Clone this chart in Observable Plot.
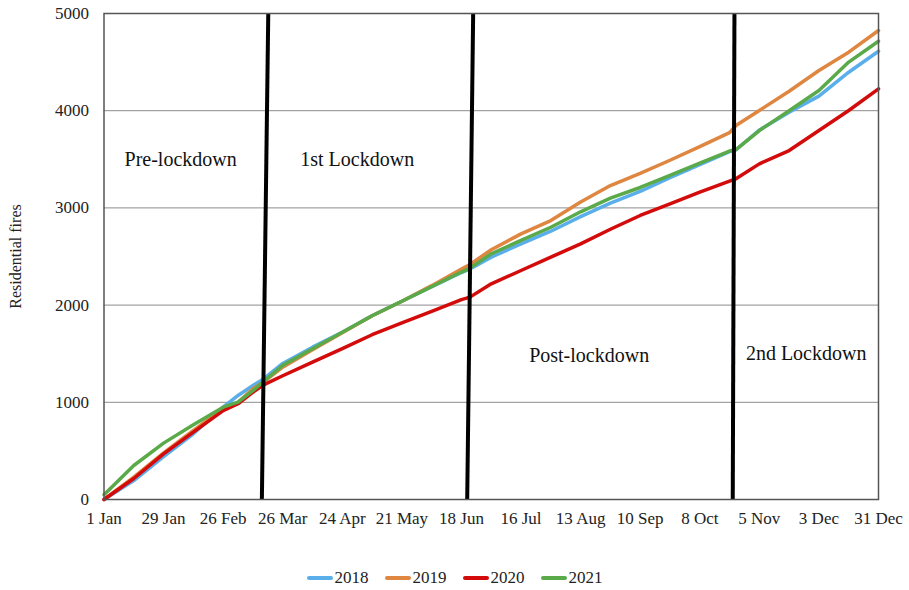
<!DOCTYPE html>
<html>
<head>
<meta charset="utf-8">
<script src="https://cdn.jsdelivr.net/npm/d3@7"></script>
<script src="https://cdn.jsdelivr.net/npm/@observablehq/plot@0.6"></script>
<style>
  html, body { margin: 0; padding: 0; background: #fff; }
  #chart { width: 909px; position: relative; }
  .legend { display: flex; justify-content: center; align-items: center; gap: 16px; margin-top: 28px; height: 20px;
    font-family: "Liberation Serif", "Times New Roman", serif; font-size: 17px; color: #222; }
  .legend .item { display: flex; align-items: center; }
  .legend .sw { width: 26px; height: 4px; border-radius: 2px; margin-right: 2px; }
</style>
</head>
<body>
<div id="chart"></div>
<script>
// Day of year (0 = 1 Jan)
const days = [0, 14, 28, 42, 56, 63, 70, 75, 84, 98, 112, 126, 140, 154, 168, 172, 182, 196, 210, 224, 238, 252, 266, 280, 294, 297, 308, 322, 336, 350, 364];
// Cumulative residential fires
const fires2018 = [0, 195, 440, 676, 950, 1070, 1173, 1240, 1400, 1567, 1721, 1890, 2040, 2190, 2335, 2373, 2493, 2630, 2760, 2910, 3050, 3170, 3310, 3445, 3580, 3598, 3800, 3985, 4150, 4396, 4612];
const fires2019 = [0, 230, 480, 710, 935, 1000, 1140, 1210, 1361, 1540, 1715, 1890, 2040, 2200, 2370, 2418, 2570, 2733, 2870, 3060, 3230, 3355, 3490, 3630, 3775, 3848, 4002, 4200, 4414, 4602, 4825];
const fires2020 = [0, 216, 470, 693, 915, 985, 1104, 1180, 1273, 1413, 1553, 1695, 1816, 1936, 2057, 2082, 2219, 2356, 2493, 2630, 2780, 2922, 3042, 3162, 3275, 3299, 3453, 3590, 3796, 4002, 4225];
const fires2021 = [50, 350, 580, 770, 950, 1001, 1120, 1215, 1380, 1550, 1721, 1890, 2040, 2190, 2340, 2380, 2528, 2665, 2801, 2960, 3100, 3210, 3335, 3460, 3585, 3600, 3796, 4000, 4208, 4500, 4715];

const years = ["2018", "2019", "2020", "2021"];
const yearColors = ["#5aaeea", "#df8640", "#d40b0b", "#5aaa4a"];

const tickDays = [0, 28, 56, 84, 112, 140, 168, 196, 224, 252, 280, 308, 336, 364];
const tickLabels = ["1 Jan", "29 Jan", "26 Feb", "26 Mar", "24 Apr", "21 May", "18 Jun", "16 Jul", "13 Aug", "10 Sep", "8 Oct", "5 Nov", "3 Dec", "31 Dec"];
const yTicks = [0, 1000, 2000, 3000, 4000, 5000];
const gridValues = [1000, 2000, 3000, 4000];
const yTitle = "Residential fires";

// Lockdown boundary lines (hand drawn, slightly slanted): day at top / day at bottom
const lockTopDay = [77.2, 173.5, 296.3];
const lockBottomDay = [74.2, 170.7, 295.5];

const phaseNames = ["Pre-lockdown", "1st Lockdown", "Post-lockdown", "2nd Lockdown"];
const phaseDay = [36, 119, 228, 330];
const phaseLevel = [3495, 3495, 1481, 1502];

const series = [fires2018, fires2019, fires2020, fires2021];
const rows = [];
years.forEach((yr, k) => days.forEach((d, i) => rows.push({day: d, fires: series[k][i], year: yr})));
const locks = lockTopDay.map((t, i) => ({top: t, bottom: lockBottomDay[i], hi: 5000, lo: 0}));
const phases = phaseNames.map((n, i) => ({name: n, day: phaseDay[i], level: phaseLevel[i]}));

const chart = Plot.plot({
  width: 909,
  height: 540,
  marginLeft: 103.5,
  marginRight: 31,
  marginTop: 13,
  marginBottom: 41,
  style: {fontFamily: "'Liberation Serif', 'Times New Roman', serif", fontSize: "17px", color: "#222", background: "#fff"},
  x: {type: "linear", domain: [0, 364]},
  y: {domain: [0, 5000]},
  color: {domain: years, range: yearColors},
  marks: [
    Plot.gridY(gridValues, {stroke: "#8c8c8c", strokeOpacity: 1, strokeWidth: 1}),
    Plot.axisX(tickDays, {tickSize: 0, tickPadding: 12, fontSize: 17, label: null,
      tickFormat: d => tickLabels[tickDays.indexOf(d)]}),
    Plot.axisY(yTicks, {tickSize: 0, tickPadding: 15, fontSize: 17, label: null, tickFormat: d => String(d)}),
    Plot.text([yTitle], {frameAnchor: "left", textAnchor: "middle", dx: -88, rotate: -90, fontSize: "16px", fill: "#222"}),
    Plot.line(rows, {x: "day", y: "fires", stroke: "year", z: "year", strokeWidth: 3.5, strokeLinejoin: "round", strokeLinecap: "round"}),
    Plot.link(locks, {x1: "top", y1: "hi", x2: "bottom", y2: "lo", stroke: "#000", strokeWidth: 4}),
    Plot.text(phases, {x: "day", y: "level", text: "name", fontSize: 20, fill: "#111"}),
    Plot.frame({stroke: "#555", strokeWidth: 1.5})
  ]
});
document.getElementById("chart").appendChild(chart);

const legend = document.createElement("div");
legend.className = "legend";
years.forEach((yr, i) => {
  const item = document.createElement("div");
  item.className = "item";
  const sw = document.createElement("span");
  sw.className = "sw";
  sw.style.background = yearColors[i];
  const lab = document.createElement("span");
  lab.textContent = yr;
  item.appendChild(sw);
  item.appendChild(lab);
  legend.appendChild(item);
});
document.getElementById("chart").appendChild(legend);
</script>
</body>
</html>
